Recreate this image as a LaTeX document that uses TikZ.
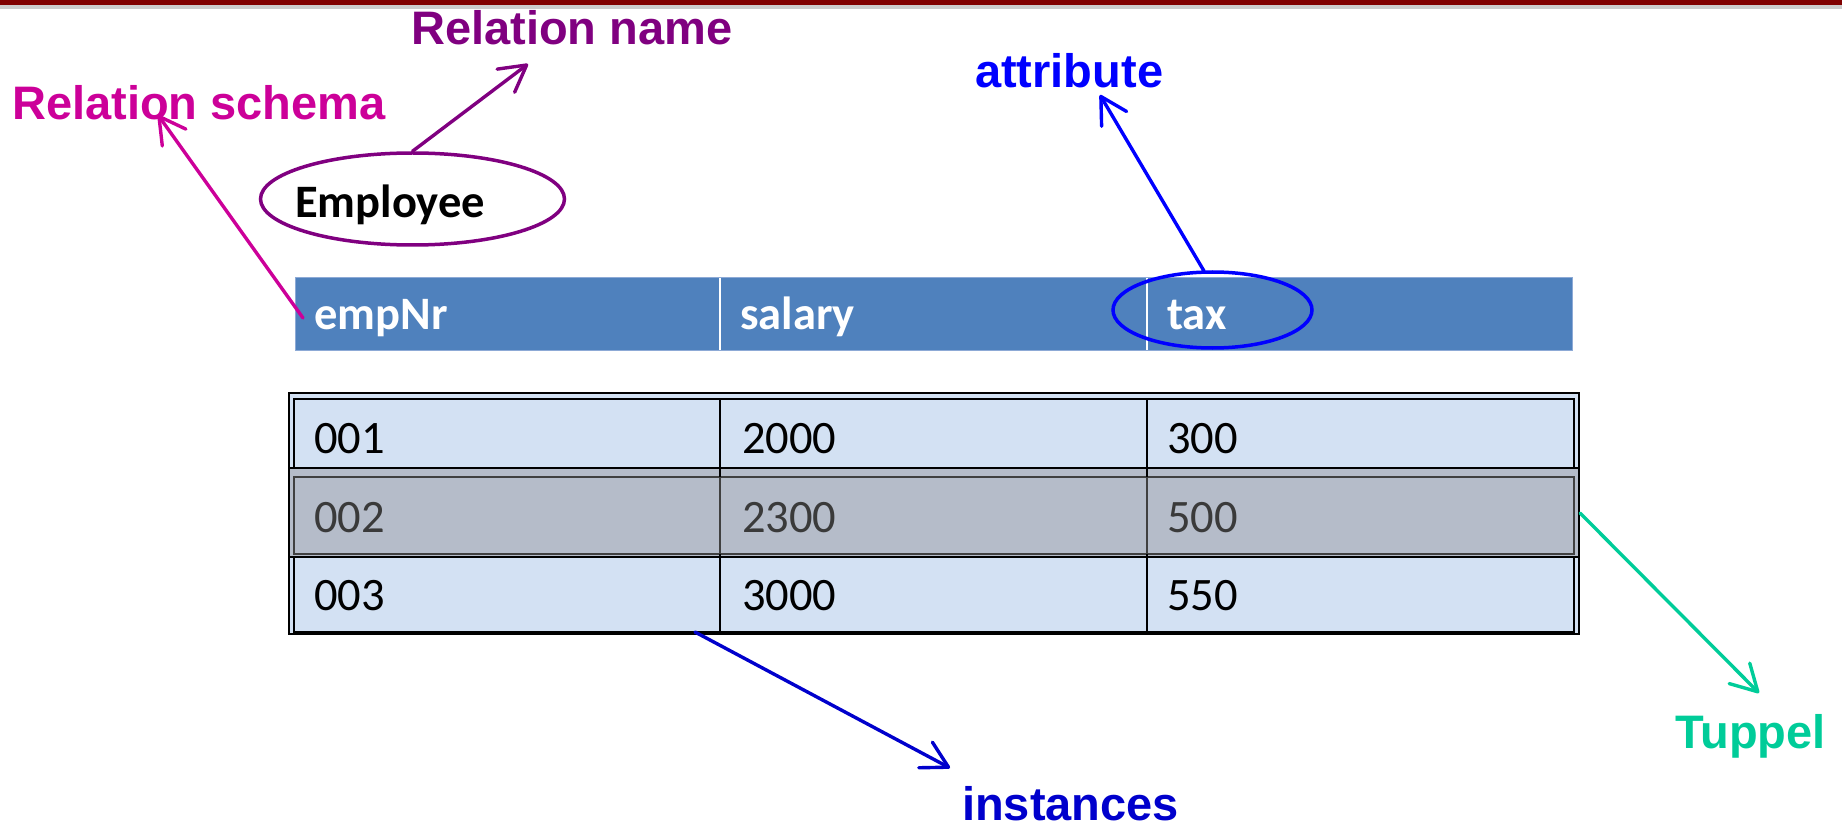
\documentclass[tikz,border=0pt]{standalone}
\usepackage{fontspec}
\setmainfont{Liberation Sans}
\newfontfamily\carlito{Carlito}
\usetikzlibrary{arrows.meta,shapes.geometric}
\definecolor{barred}{HTML}{800000}
\definecolor{bargray}{HTML}{CCCCCC}
\definecolor{relname}{HTML}{800080}
\definecolor{relschema}{HTML}{CC0099}
\definecolor{attrblue}{HTML}{0000FF}
\definecolor{instblue}{HTML}{0000CC}
\definecolor{tupgreen}{HTML}{00CC99}
\definecolor{hdrblue}{HTML}{4F81BD}
\definecolor{hdredge}{HTML}{8DAAD6}
\definecolor{cellblue}{HTML}{D3E1F3}
\definecolor{rowgray}{HTML}{B5BCC9}
\definecolor{rowline}{HTML}{404040}
\definecolor{rowtext}{HTML}{3A3A3A}
\tikzset{
  lbl/.style={font=\fontsize{47}{56}\selectfont\bfseries, inner sep=0pt, anchor=base west},
  celltxt/.style={font=\carlito\fontsize{46.5}{56}\selectfont, inner sep=0pt, anchor=base west},
  hdrtxt/.style={font=\carlito\bfseries\fontsize{46.5}{56}\selectfont, text=white, inner sep=0pt, anchor=base west},
  arr/.style={line width=3.4pt, line cap=round, -{Straight Barb[round,length=26pt,width=29pt]}},
  oval/.style={ellipse, line width=3.5pt, inner sep=0pt}
}
\begin{document}
\begin{tikzpicture}[x=1pt,y=-1pt]
\useasboundingbox (0,0) rectangle (1842,826);
% top bar
\fill[barred] (0,0) rectangle (1842,5);
\fill[bargray] (0,5) rectangle (1842,9.5);

% labels
\node[lbl, text=relname] (lname) at (411,45) {Relation name};
\node[lbl, text=relschema] (lschema) at (12,120) {Relation schema};
\node[lbl, text=attrblue] (lattr) at (975,88) {attribute};
\node[lbl, text=instblue] (linst) at (962,820) {instances};
\node[lbl, text=tupgreen] (ltup) at (1675,748) {Tuppel};

% relation name ellipse
\node[oval, draw=relname, minimum width=304pt, minimum height=92pt] (empell) at (412.5,199) {};
\node[font=\carlito\bfseries\fontsize{46.5}{56}\selectfont, inner sep=0pt, anchor=base west] (emptxt) at (295,218) {Employee};

% header row
\filldraw[fill=hdrblue, draw=hdredge, line width=1pt] (295,278) rectangle (1572,350);
\draw[white, line width=2pt] (720,278) -- (720,350) (1147,278) -- (1147,350);
\node[hdrtxt] (hempnr) at (314,330) {empNr};
\node[hdrtxt] (hsalary) at (740,330) {salary};
\node[hdrtxt] (htax) at (1167,330) {tax};
\node[oval, draw=attrblue, minimum width=199pt, minimum height=76pt] (taxell) at (1212.5,310) {};

% data table
\filldraw[fill=cellblue, draw=black, line width=1.5pt] (289,393) rectangle (1579,634);
\draw[black, line width=2pt] (294,399) rectangle (1574,632);
\draw[black, line width=2pt] (720,399) -- (720,632) (1147,399) -- (1147,632);
% highlighted tuple
\filldraw[fill=rowgray, draw=black, line width=2pt] (289,468) rectangle (1579,557);
\draw[rowline, line width=2pt] (294,477) rectangle (1574,554);
\draw[rowline, line width=2pt] (720,477) -- (720,554) (1147,477) -- (1147,554);
\draw[black, line width=2pt] (720,468) -- (720,477) (1147,468) -- (1147,477) (720,554) -- (720,557) (1147,554) -- (1147,557);

\node[celltxt] (c11) at (314,453) {001};
\node[celltxt] (c12) at (742,453) {2000};
\node[celltxt] (c13) at (1167,453) {300};
\node[celltxt, text=rowtext] (c21) at (314,532) {002};
\node[celltxt, text=rowtext] (c22) at (742,532) {2300};
\node[celltxt, text=rowtext] (c23) at (1167,532) {500};
\node[celltxt] (c31) at (314,610) {003};
\node[celltxt] (c32) at (742,610) {3000};
\node[celltxt] (c33) at (1167,610) {550};

% connector end points
\coordinate (schemaTail) at (303,318);
\coordinate (schemaTip) at (158,115);
\coordinate (nameTip) at (528,64);
\coordinate (attrTail) at (1204,271);
\coordinate (attrTip) at (1100,95);
\coordinate (instTail) at (695,632);
\coordinate (instTip) at (950,768);
\coordinate (tupTail) at (1580,513);
\coordinate (tupTip) at (1759,693);

% connectors
\draw[arr, relschema] (schemaTail) -- (schemaTip);
\draw[arr, relname] (empell.north) -- (nameTip);
\draw[arr, attrblue] (attrTail) -- (attrTip);
\draw[arr, instblue] (instTail) -- (instTip);
\draw[arr, tupgreen] (tupTail) -- (tupTip);
\end{tikzpicture}
\end{document}
